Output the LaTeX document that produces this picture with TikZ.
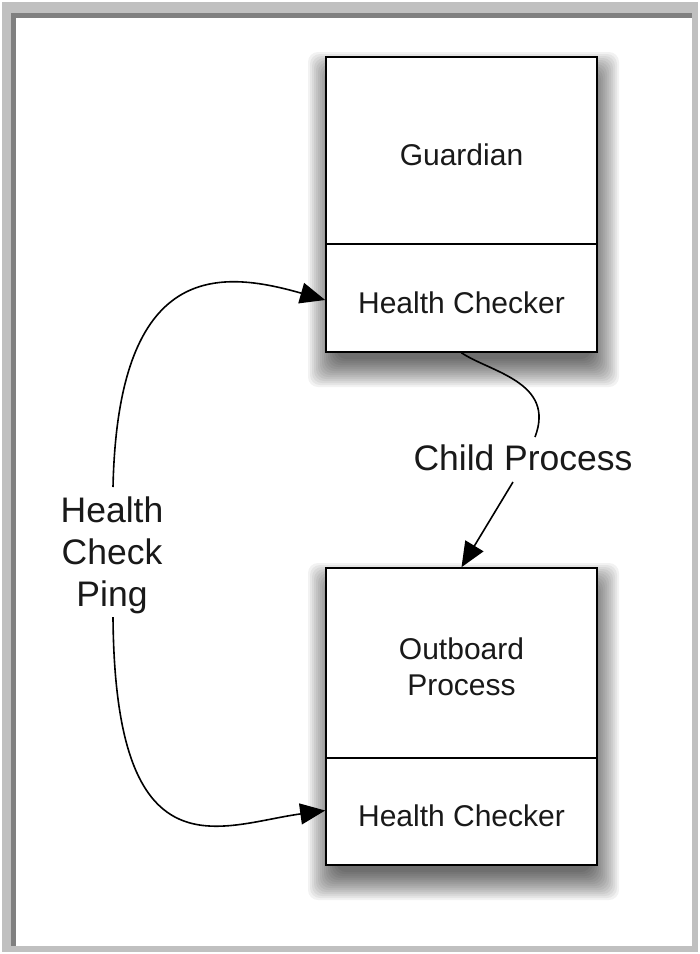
\documentclass[tikz,border=0pt]{standalone}
\usepackage{fontspec}
\setmainfont{Liberation Sans}
\usetikzlibrary{arrows.meta}
\definecolor{framegray}{RGB}{192,192,192}
\definecolor{framedark}{RGB}{128,128,128}
\definecolor{txt}{RGB}{25,25,25}
\begin{document}
\begin{tikzpicture}[x={(1pt,0)},y={(0,-1pt)},
  part/.style={draw=black,line width=1.6pt,fill=white,rectangle,minimum width=271pt,inner sep=0pt,text=txt,align=center,text height=30pt,text depth=0pt,font=\fontsize{30}{36}\selectfont},
  lbl/.style={text=txt,align=center,inner sep=0pt,font=\fontsize{35.5}{42}\selectfont},
  conn/.style={draw=black,line width=1.6pt},
  arr/.style={conn,-{Triangle[length=25pt,width=21pt]}}]
\useasboundingbox (0,0) rectangle (700,954);
% frame
\fill[framegray] (2,2) rectangle (698,952);
\fill[framedark] (11,13) rectangle (692,946);
\fill[white] (16,18) rectangle (692,946);
% shadows
\foreach \d in {20,18,...,-8}{
  \fill[black,opacity=0.05,rounded corners=10pt] (326-\d+2,57-\d+15) rectangle (597+\d+2,352+\d+15);
  \fill[black,opacity=0.05,rounded corners=10pt] (326-\d+2,568-\d+15) rectangle (597+\d+2,865+\d+15);
}
% boxes
\node[part,minimum height=187pt] (gA) at (461.5,150.5) {Guardian};
\node[part,minimum height=108pt] (gB) at (461.5,298) {Health Checker};
\node[part,minimum height=190pt,text height=64pt] (gC) at (461.5,663) {Outboard\\Process};
\node[part,minimum height=107pt] (gD) at (461.5,811.5) {Health Checker};
% labels
\node[lbl] (ping) at (112,555) {Health\\Check\\Ping};
\node[lbl] (cp) at (523,458) {Child Process};
% connectors
\coordinate (pingtop) at (113,487);
\coordinate (pingbot) at (113,617);
\draw[arr] (pingtop) .. controls (118,260) and (220,270) .. ([yshift=-2pt]gB.west);
\draw[arr] (pingbot) .. controls (115,880) and (220,825) .. ([yshift=1pt]gD.west);
\coordinate (cpin) at (535,437);
\coordinate (cpout) at (513,482);
\draw[conn] (gB.south) .. controls (490,372) and (556,382) .. (cpin);
\draw[arr] (cpout) -- (gC.north);
\end{tikzpicture}
\end{document}
